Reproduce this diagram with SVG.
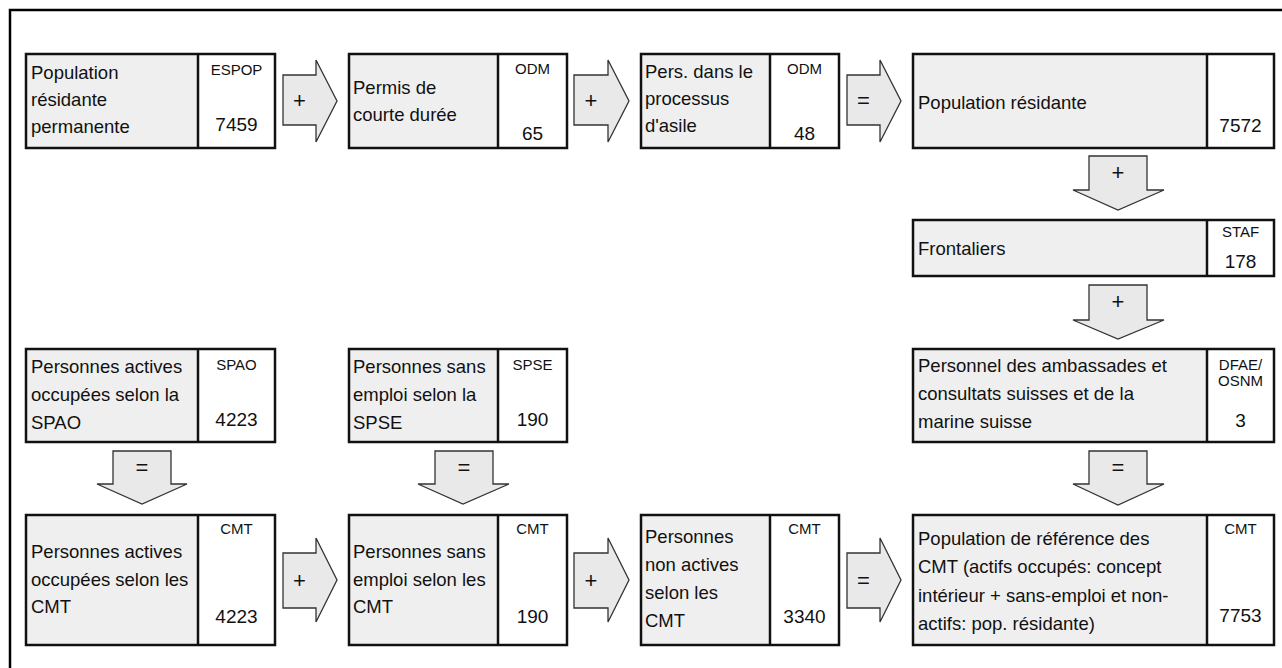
<svg xmlns="http://www.w3.org/2000/svg" width="1282" height="668" viewBox="0 0 1282 668">
<style>
.frame{fill:none;stroke:#000;stroke-width:2.5}
.lab{fill:#efefef}
.val{fill:#fff}
.bx{fill:none;stroke:#111;stroke-width:2.5}
.arr{fill:#e9e9e9;stroke:#333;stroke-width:1.3;stroke-linejoin:miter}
text{font-family:"Liberation Sans",Arial,sans-serif;fill:#111}
.t{font-size:18.5px}
.n{font-size:19px;text-anchor:middle}
.s{font-size:15px;text-anchor:middle}
.op{font-size:22px;text-anchor:middle}
</style>
<rect width="1282" height="668" fill="#fff"/>
<path class="frame" d="M10,668 V10 H1282"/>

<g id="connectors">
  <path class="arr" d="M283,75 H316 V60 L337,101 L316,142 V125 H283 Z"/>
  <text class="op" x="299.5" y="108">+</text>
  <path class="arr" d="M574,75 H608 V60 L629,101 L608,142 V125 H574 Z"/>
  <text class="op" x="591" y="108">+</text>
  <path class="arr" d="M847,75 H880 V60 L901,101 L880,142 V125 H847 Z"/>
  <text class="op" x="863.5" y="108">=</text>

  <path class="arr" d="M283,553 H316 V538 L337,580 L316,622 V608 H283 Z"/>
  <text class="op" x="299.5" y="588">+</text>
  <path class="arr" d="M574,553 H608 V538 L629,580 L608,622 V608 H574 Z"/>
  <text class="op" x="591" y="588">+</text>
  <path class="arr" d="M847,553 H880 V538 L901,580 L880,622 V608 H847 Z"/>
  <text class="op" x="863.5" y="588">=</text>

  <path class="arr" d="M1089,156 H1147 V190 H1164 L1118,210 L1073,190 H1089 Z"/>
  <text class="op" x="1118" y="180">+</text>
  <path class="arr" d="M1089,285 H1147 V320 H1164 L1118,339 L1073,320 H1089 Z"/>
  <text class="op" x="1118" y="309">+</text>
  <path class="arr" d="M1089,451 H1147 V484 H1164 L1118,505 L1073,484 H1089 Z"/>
  <text class="op" x="1118" y="475">=</text>

  <path class="arr" d="M113,451 H171 V484 H187 L142,504 L97,484 H113 Z"/>
  <text class="op" x="142" y="475">=</text>
  <path class="arr" d="M435,451 H493 V484 H509 L463,504 L418,484 H435 Z"/>
  <text class="op" x="464" y="475">=</text>
</g>

<g id="espop">
  <rect class="lab" x="26" y="54" width="172" height="94"/>
  <rect class="val" x="198" y="54" width="77" height="94"/>
  <rect class="bx" x="26" y="54" width="249" height="94"/>
  <line class="bx" x1="198" y1="54" x2="198" y2="148"/>
  <text class="t" x="31" y="79">Population</text>
  <text class="t" x="31" y="106">résidante</text>
  <text class="t" x="31" y="133">permanente</text>
  <text class="s" x="236.5" y="75">ESPOP</text>
  <text class="n" x="236.5" y="131">7459</text>
</g>

<g id="permis">
  <rect class="lab" x="349" y="54" width="149" height="94"/>
  <rect class="val" x="498" y="54" width="69" height="94"/>
  <rect class="bx" x="349" y="54" width="218" height="94"/>
  <line class="bx" x1="498" y1="54" x2="498" y2="148"/>
  <text class="t" x="353" y="94">Permis de</text>
  <text class="t" x="353" y="121">courte durée</text>
  <text class="s" x="532.5" y="74">ODM</text>
  <text class="n" x="532.5" y="140">65</text>
</g>

<g id="asile">
  <rect class="lab" x="641" y="54" width="129" height="94"/>
  <rect class="val" x="770" y="54" width="69" height="94"/>
  <rect class="bx" x="641" y="54" width="198" height="94"/>
  <line class="bx" x1="770" y1="54" x2="770" y2="148"/>
  <text class="t" x="645" y="78">Pers. dans le</text>
  <text class="t" x="645" y="105">processus</text>
  <text class="t" x="645" y="132">d'asile</text>
  <text class="s" x="804.5" y="74">ODM</text>
  <text class="n" x="804.5" y="140">48</text>
</g>

<g id="popres">
  <rect class="lab" x="913" y="54" width="294" height="94"/>
  <rect class="val" x="1207" y="54" width="67" height="94"/>
  <rect class="bx" x="913" y="54" width="361" height="94"/>
  <line class="bx" x1="1207" y1="54" x2="1207" y2="148"/>
  <text class="t" x="918" y="109">Population résidante</text>
  <text class="n" x="1240.5" y="132">7572</text>
</g>

<g id="frontaliers">
  <rect class="lab" x="913" y="220" width="294" height="56"/>
  <rect class="val" x="1207" y="220" width="67" height="56"/>
  <rect class="bx" x="913" y="220" width="361" height="56"/>
  <line class="bx" x1="1207" y1="220" x2="1207" y2="276"/>
  <text class="t" x="918" y="255">Frontaliers</text>
  <text class="s" x="1240.5" y="237">STAF</text>
  <text class="n" x="1240.5" y="268">178</text>
</g>

<g id="dfae">
  <rect class="lab" x="913" y="349" width="294" height="93"/>
  <rect class="val" x="1207" y="349" width="67" height="93"/>
  <rect class="bx" x="913" y="349" width="361" height="93"/>
  <line class="bx" x1="1207" y1="349" x2="1207" y2="442"/>
  <text class="t" x="918" y="372">Personnel des ambassades et</text>
  <text class="t" x="918" y="400">consultats suisses et de la</text>
  <text class="t" x="918" y="428">marine suisse</text>
  <text class="s" x="1240.5" y="370">DFAE/</text>
  <text class="s" x="1240.5" y="386">OSNM</text>
  <text class="n" x="1240.5" y="427">3</text>
</g>

<g id="spao">
  <rect class="lab" x="26" y="349" width="172" height="93"/>
  <rect class="val" x="198" y="349" width="77" height="93"/>
  <rect class="bx" x="26" y="349" width="249" height="93"/>
  <line class="bx" x1="198" y1="349" x2="198" y2="442"/>
  <text class="t" x="31" y="373">Personnes actives</text>
  <text class="t" x="31" y="401">occupées selon la</text>
  <text class="t" x="31" y="429">SPAO</text>
  <text class="s" x="236.5" y="370">SPAO</text>
  <text class="n" x="236.5" y="426">4223</text>
</g>

<g id="spse">
  <rect class="lab" x="349" y="349" width="149" height="93"/>
  <rect class="val" x="498" y="349" width="69" height="93"/>
  <rect class="bx" x="349" y="349" width="218" height="93"/>
  <line class="bx" x1="498" y1="349" x2="498" y2="442"/>
  <text class="t" x="353" y="373">Personnes sans</text>
  <text class="t" x="353" y="401">emploi selon la</text>
  <text class="t" x="353" y="429">SPSE</text>
  <text class="s" x="532.5" y="370">SPSE</text>
  <text class="n" x="532.5" y="426">190</text>
</g>

<g id="cmt-actifs">
  <rect class="lab" x="26" y="515" width="172" height="130"/>
  <rect class="val" x="198" y="515" width="77" height="130"/>
  <rect class="bx" x="26" y="515" width="249" height="130"/>
  <line class="bx" x1="198" y1="515" x2="198" y2="645"/>
  <text class="t" x="31" y="558">Personnes actives</text>
  <text class="t" x="31" y="586">occupées selon les</text>
  <text class="t" x="31" y="613">CMT</text>
  <text class="s" x="236.5" y="534">CMT</text>
  <text class="n" x="236.5" y="623">4223</text>
</g>

<g id="cmt-sans-emploi">
  <rect class="lab" x="349" y="515" width="149" height="130"/>
  <rect class="val" x="498" y="515" width="69" height="130"/>
  <rect class="bx" x="349" y="515" width="218" height="130"/>
  <line class="bx" x1="498" y1="515" x2="498" y2="645"/>
  <text class="t" x="353" y="558">Personnes sans</text>
  <text class="t" x="353" y="586">emploi selon les</text>
  <text class="t" x="353" y="613">CMT</text>
  <text class="s" x="532.5" y="534">CMT</text>
  <text class="n" x="532.5" y="623">190</text>
</g>

<g id="cmt-non-actifs">
  <rect class="lab" x="641" y="515" width="129" height="130"/>
  <rect class="val" x="770" y="515" width="69" height="130"/>
  <rect class="bx" x="641" y="515" width="198" height="130"/>
  <line class="bx" x1="770" y1="515" x2="770" y2="645"/>
  <text class="t" x="645" y="543">Personnes</text>
  <text class="t" x="645" y="571">non actives</text>
  <text class="t" x="645" y="599">selon les</text>
  <text class="t" x="645" y="627">CMT</text>
  <text class="s" x="804.5" y="534">CMT</text>
  <text class="n" x="804.5" y="623">3340</text>
</g>

<g id="cmt-reference">
  <rect class="lab" x="913" y="515" width="294" height="130"/>
  <rect class="val" x="1207" y="515" width="67" height="130"/>
  <rect class="bx" x="913" y="515" width="361" height="130"/>
  <line class="bx" x1="1207" y1="515" x2="1207" y2="645"/>
  <text class="t" x="918" y="545">Population de référence des</text>
  <text class="t" x="918" y="573">CMT (actifs occupés: concept</text>
  <text class="t" x="918" y="602">intérieur + sans-emploi et non-</text>
  <text class="t" x="918" y="630">actifs: pop. résidante)</text>
  <text class="s" x="1240.5" y="534">CMT</text>
  <text class="n" x="1240.5" y="622">7753</text>
</g>
</svg>
